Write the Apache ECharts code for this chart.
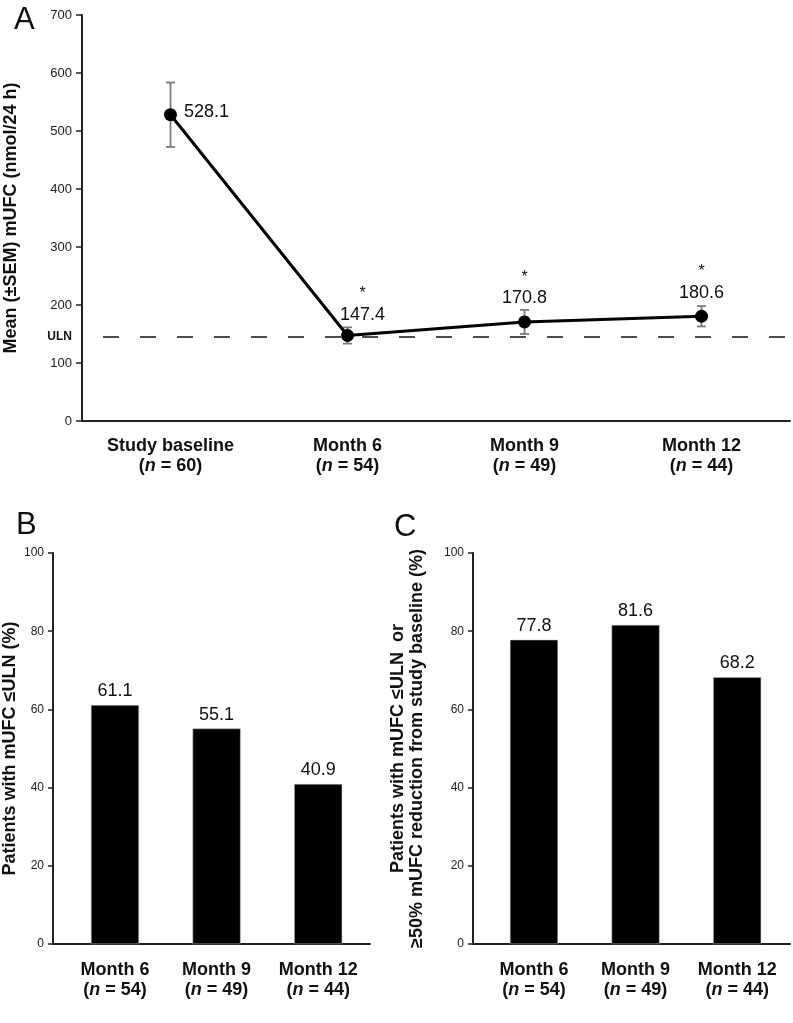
<!DOCTYPE html>
<html>
<head>
<meta charset="utf-8">
<script src="https://cdn.jsdelivr.net/npm/echarts@6/dist/echarts.min.js"></script>
<style>
html,body{margin:0;padding:0;background:#fff;}
#chart{width:793px;height:1023px;}
</style>
</head>
<body>
<div id="chart"></div>
<script>
// ---- Data ----
const timepointsA = ['Study baseline', 'Month 6', 'Month 9', 'Month 12'];
const nA = [60, 54, 49, 44];
const meanUFC = [528.1, 147.4, 170.8, 180.6];
const semUFC = [55.5, 14, 20.7, 17.5];
const significant = [false, true, true, true];
const ULN = 145;
const yTicksA = [0, 100, 200, 300, 400, 500, 600, 700];

const monthsBC = ['Month 6', 'Month 9', 'Month 12'];
const nBC = [54, 49, 44];
const pctNormalized = [61.1, 55.1, 40.9];
const pctResponders = [77.8, 81.6, 68.2];
const yTicksBC = [0, 20, 40, 60, 80, 100];

// ---- Helpers ----
const FONT = 'Liberation Sans, Arial, Helvetica, sans-serif';
const axisLineStyle = { color: '#222', width: 2 };
const catRich = {
  b: { fontSize: 18, fontWeight: 'bold', color: '#111', lineHeight: 20, fontFamily: FONT },
  i: { fontSize: 18, fontWeight: 'bold', fontStyle: 'italic', color: '#111', lineHeight: 20, fontFamily: FONT }
};
function catLabel(name, n) {
  return '{b|' + name + '}\n{b|(}{i|n}{b| = ' + n + ')}';
}

const chart = echarts.init(document.getElementById('chart'), null, { renderer: 'canvas' });

// Line series data with per-point label layout
const lineData = meanUFC.map((v, i) => {
  if (!significant[i]) {
    return { value: v, label: { position: 'right', distance: 7, offset: [0, -3], formatter: '{v|{c}}' } };
  }
  return {
    value: v,
    label: {
      position: 'top',
      distance: 6,
      offset: i === 1 ? [15, 3] : [0, 0],
      formatter: '{a|*}\n{v|{c}}'
    }
  };
});

const option = {
  animation: false,
  backgroundColor: '#fff',
  textStyle: { fontFamily: FONT },
  title: [
    { text: 'A', left: 9, top: 0, textStyle: { fontSize: 31, fontWeight: 'normal', color: '#111', fontFamily: FONT } },
    { text: 'B', left: 11, top: 505, textStyle: { fontSize: 31, fontWeight: 'normal', color: '#111', fontFamily: FONT } },
    { text: 'C', left: 389, top: 507, textStyle: { fontSize: 31, fontWeight: 'normal', color: '#111', fontFamily: FONT } }
  ],
  grid: [
    { left: 82, right: 3, top: 15, bottom: 602, containLabel: false, outerBoundsMode: 'none' },
    { left: 53, right: 423, top: 553, bottom: 79, containLabel: false, outerBoundsMode: 'none' },
    { left: 473, right: 3, top: 553, bottom: 79, containLabel: false, outerBoundsMode: 'none' }
  ],
  xAxis: [
    {
      gridIndex: 0, type: 'category', data: timepointsA, boundaryGap: true,
      axisLine: { lineStyle: axisLineStyle },
      axisTick: { show: false },
      axisLabel: {
        margin: 15, interval: 0,
        formatter: (v, idx) => catLabel(v, nA[idx]),
        rich: catRich
      }
    },
    {
      gridIndex: 1, type: 'value', min: -0.61, max: 2.51,
      axisLine: { onZero: false, lineStyle: axisLineStyle },
      axisTick: { show: false },
      splitLine: { show: false },
      axisLabel: {
        margin: 16,
        customValues: monthsBC.map((m, i) => i),
        formatter: (v) => { const i = Math.round(v); return catLabel(monthsBC[i], nBC[i]); },
        rich: catRich
      }
    },
    {
      gridIndex: 2, type: 'value', min: -0.60, max: 2.52,
      axisLine: { onZero: false, lineStyle: axisLineStyle },
      axisTick: { show: false },
      splitLine: { show: false },
      axisLabel: {
        margin: 16,
        customValues: monthsBC.map((m, i) => i),
        formatter: (v) => { const i = Math.round(v); return catLabel(monthsBC[i], nBC[i]); },
        rich: catRich
      }
    }
  ],
  yAxis: [
    {
      gridIndex: 0, type: 'value', min: yTicksA[0], max: yTicksA[yTicksA.length - 1], interval: 100,
      name: 'Mean (±SEM) mUFC (nmol/24 h)', nameLocation: 'middle', nameGap: 62,
      nameTextStyle: { fontSize: 18, fontWeight: 'bold', color: '#111', fontFamily: FONT },
      axisLine: { show: true, onZero: false, lineStyle: axisLineStyle },
      axisTick: { show: true, length: 6, lineStyle: { color: '#222', width: 1.5 } },
      axisLabel: { fontSize: 13, color: '#222', margin: 10 },
      splitLine: { show: false }
    },
    {
      gridIndex: 1, type: 'value', min: yTicksBC[0], max: yTicksBC[yTicksBC.length - 1], interval: 20,
      name: 'Patients with mUFC ≤ULN (%)', nameLocation: 'middle', nameGap: 34,
      nameTextStyle: { fontSize: 18, fontWeight: 'bold', color: '#111', fontFamily: FONT },
      axisLine: { show: true, onZero: false, lineStyle: axisLineStyle },
      axisTick: { show: true, length: 5, lineStyle: { color: '#222', width: 1.5 } },
      axisLabel: { fontSize: 12, color: '#222', margin: 9 },
      splitLine: { show: false }
    },
    {
      gridIndex: 2, type: 'value', min: yTicksBC[0], max: yTicksBC[yTicksBC.length - 1], interval: 20,
      name: 'Patients with mUFC ≤ULN  or\n≥50% mUFC reduction from study baseline (%)', nameLocation: 'middle', nameGap: 46,
      nameTextStyle: { fontSize: 18, fontWeight: 'bold', color: '#111', lineHeight: 19, fontFamily: FONT },
      axisLine: { show: true, onZero: false, lineStyle: axisLineStyle },
      axisTick: { show: true, length: 5, lineStyle: { color: '#222', width: 1.5 } },
      axisLabel: { fontSize: 12, color: '#222', margin: 9 },
      splitLine: { show: false }
    }
  ],
  series: [
    {
      type: 'custom', xAxisIndex: 0, yAxisIndex: 0, z: 2,
      data: meanUFC.map((m, i) => [i, m, semUFC[i]]),
      renderItem: function (params, api) {
        const x = api.value(0), m = api.value(1), s = api.value(2);
        const hi = api.coord([x, m + s]);
        const lo = api.coord([x, m - s]);
        const hw = 4.5;
        const style = { stroke: '#7a7a7a', lineWidth: 1.8 };
        return {
          type: 'group',
          children: [
            { type: 'line', shape: { x1: hi[0], y1: hi[1], x2: lo[0], y2: lo[1] }, style },
            { type: 'line', shape: { x1: hi[0] - hw, y1: hi[1], x2: hi[0] + hw, y2: hi[1] }, style },
            { type: 'line', shape: { x1: lo[0] - hw, y1: lo[1], x2: lo[0] + hw, y2: lo[1] }, style }
          ]
        };
      }
    },
    {
      type: 'line', xAxisIndex: 0, yAxisIndex: 0, z: 3,
      data: lineData,
      symbol: 'circle', symbolSize: 13,
      itemStyle: { color: '#000' },
      lineStyle: { color: '#000', width: 3 },
      label: {
        show: true, color: '#111',
        rich: {
          a: { fontSize: 16, color: '#111', lineHeight: 20, align: 'center', fontFamily: FONT },
          v: { fontSize: 18, color: '#111', lineHeight: 22, align: 'center', fontFamily: FONT }
        }
      },
      markLine: {
        silent: true, symbol: 'none',
        lineStyle: { color: '#111', width: 1.5, type: [16, 21], dashOffset: 16 },
        label: { show: true, position: 'start', formatter: 'ULN', fontSize: 12, fontWeight: 'bold', color: '#111', distance: 10 },
        data: [{ yAxis: ULN }]
      }
    },
    {
      type: 'bar', xAxisIndex: 1, yAxisIndex: 1,
      data: pctNormalized.map((v, i) => [i, v]),
      barWidth: 48,
      itemStyle: { color: '#000', borderColor: '#bbb', borderWidth: 0.5 },
      label: { show: true, position: 'top', distance: 5, fontSize: 18, color: '#111',
        formatter: (p) => p.value[1].toFixed(1) }
    },
    {
      type: 'bar', xAxisIndex: 2, yAxisIndex: 2,
      data: pctResponders.map((v, i) => [i, v]),
      barWidth: 48,
      itemStyle: { color: '#000', borderColor: '#bbb', borderWidth: 0.5 },
      label: { show: true, position: 'top', distance: 5, fontSize: 18, color: '#111',
        formatter: (p) => p.value[1].toFixed(1) }
    }
  ]
};
chart.setOption(option);
</script>
</body>
</html>
